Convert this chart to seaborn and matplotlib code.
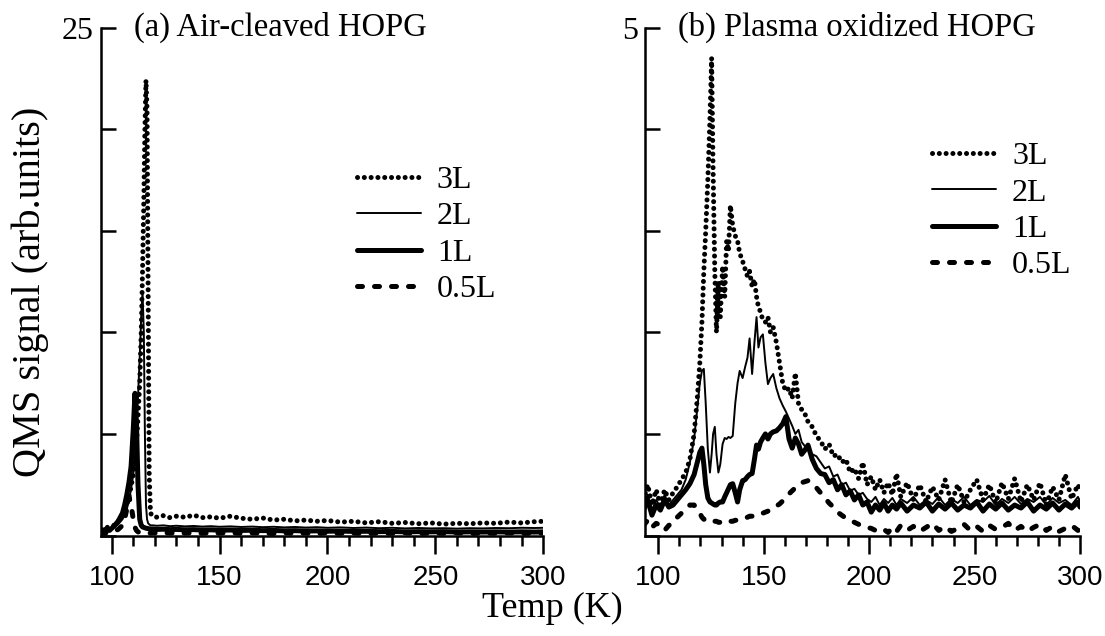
import matplotlib
matplotlib.use('Agg')
import matplotlib.pyplot as plt
from matplotlib.ticker import MultipleLocator
import pandas as pd
import seaborn as sns

# (a) air-cleaved HOPG, shared temperature grid (K)
temp_a = [95, 97, 99, 101, 103, 105, 106, 107, 108, 109,
          110, 110.8, 111.5, 112.2, 113, 113.7, 114.3, 114.9, 115.4, 115.9,
          116.4, 116.9, 117.4, 118, 119, 121, 124, 127, 130, 134,
          138, 142, 146, 150, 155, 160, 165, 170, 175, 180,
          185, 190, 195, 200, 206, 212, 218, 224, 230, 236,
          242, 248, 254, 260, 266, 272, 278, 284, 290, 296,
          300]
a_3L = [0.30, 0.35, 0.45, 0.50, 0.70, 1.00, 1.20, 1.50, 1.90, 2.40,
        3.00, 3.60, 4.50, 5.80, 7.50, 10.0, 13.0, 16.5, 20.0, 22.4,
        21.0, 12.0, 3.00, 1.10, 0.95, 0.90, 0.98, 0.88, 0.95, 0.90,
        1.00, 0.88, 0.92, 0.85, 0.95, 0.85, 0.80, 0.86, 0.76, 0.80,
        0.72, 0.76, 0.70, 0.74, 0.66, 0.70, 0.62, 0.68, 0.60, 0.64,
        0.58, 0.62, 0.56, 0.60, 0.58, 0.62, 0.60, 0.66, 0.62, 0.68,
        0.70]
a_2L = [0.25, 0.30, 0.35, 0.40, 0.55, 0.80, 1.00, 1.30, 1.70, 2.30,
        3.00, 4.00, 5.20, 6.80, 8.80, 10.8, 12.0, 10.0, 5.00, 1.50,
        0.80, 0.60, 0.55, 0.50, 0.50, 0.48, 0.50, 0.46, 0.48, 0.45,
        0.47, 0.44, 0.46, 0.43, 0.45, 0.42, 0.44, 0.41, 0.43, 0.40,
        0.42, 0.39, 0.41, 0.38, 0.40, 0.37, 0.39, 0.36, 0.38, 0.35,
        0.37, 0.35, 0.36, 0.34, 0.36, 0.35, 0.37, 0.36, 0.38, 0.37,
        0.38]
a_1L = [0.20, 0.30, 0.25, 0.45, 0.70, 1.10, 1.50, 2.00, 2.60, 3.40,
        5.20, 7.00, 5.50, 2.50, 0.80, 0.50, 0.42, 0.40, 0.38, 0.36,
        0.35, 0.34, 0.33, 0.32, 0.32, 0.30, 0.31, 0.29, 0.30, 0.28,
        0.29, 0.27, 0.28, 0.26, 0.27, 0.25, 0.26, 0.24, 0.25, 0.23,
        0.24, 0.22, 0.23, 0.21, 0.22, 0.20, 0.21, 0.19, 0.20, 0.18,
        0.19, 0.18, 0.19, 0.17, 0.18, 0.17, 0.18, 0.17, 0.18, 0.17,
        0.18]
a_05L = [0.10, 0.12, 0.15, 0.20, 0.30, 0.50, 0.80, 1.30, 1.90, 1.50,
         0.80, 0.40, 0.25, 0.18, 0.15, 0.14, 0.13, 0.14, 0.13, 0.12,
         0.13, 0.12, 0.12, 0.12, 0.13, 0.12, 0.14, 0.12, 0.13, 0.12,
         0.13, 0.11, 0.13, 0.12, 0.14, 0.11, 0.13, 0.12, 0.10, 0.13,
         0.11, 0.12, 0.10, 0.13, 0.11, 0.12, 0.10, 0.12, 0.11, 0.13,
         0.10, 0.12, 0.11, 0.13, 0.10, 0.12, 0.11, 0.13, 0.10, 0.12,
         0.12]

# (b) plasma oxidized HOPG
temp_b = [93, 95, 97, 99, 101, 103, 105, 107, 109, 111,
          113, 115, 117, 118.5, 119.7, 120.7, 121.6, 122.5, 123.5, 124.5,
          125.3, 126, 126.8, 127.6, 128.5, 129.4, 130.5, 131.5, 132.4, 133.3,
          134.2, 135.3, 136.5, 137.6, 138.6, 140, 141.2, 142.3, 143.3, 144.5,
          145.6, 146.6, 147.5, 148.5, 149.6, 150.8, 152, 153.2, 154.5, 156,
          157.5, 159, 160.5, 162, 163.5, 165, 166.5, 168, 169.5, 171,
          173, 175, 177, 179, 181, 183, 185, 187, 189, 191,
          193, 195, 197, 199, 201, 203, 205, 207, 209, 211,
          213, 215, 218, 221, 224, 227, 230, 233, 236, 239,
          242, 245, 248, 251, 254, 257, 260, 263, 266, 269,
          272, 275, 278, 281, 284, 287, 290, 293, 296, 299,
          300]
b_3L = [0.35, 0.50, 0.30, 0.45, 0.30, 0.45, 0.35, 0.42, 0.48, 0.55,
        0.62, 0.75, 1.00, 1.35, 1.70, 2.10, 2.60, 3.00, 3.50, 4.10,
        4.70, 3.60, 2.60, 2.00, 2.50, 2.15, 2.65, 2.35, 2.90, 2.80,
        3.25, 3.05, 2.95, 2.90, 2.78, 2.70, 2.62, 2.55, 2.60, 2.45,
        2.52, 2.35, 2.25, 2.20, 2.12, 2.10, 2.15, 2.00, 2.05, 1.90,
        1.70, 1.50, 1.42, 1.45, 1.35, 1.60, 1.30, 1.24, 1.20, 1.12,
        1.07, 0.98, 0.93, 0.85, 0.90, 0.78, 0.80, 0.72, 0.75, 0.62,
        0.66, 0.56, 0.72, 0.50, 0.58, 0.45, 0.55, 0.42, 0.52, 0.40,
        0.61, 0.38, 0.52, 0.35, 0.50, 0.33, 0.48, 0.35, 0.55, 0.32,
        0.50, 0.33, 0.45, 0.55, 0.35, 0.50, 0.32, 0.52, 0.36, 0.56,
        0.33, 0.50, 0.35, 0.52, 0.30, 0.48, 0.35, 0.60, 0.36, 0.50,
        0.45]
b_2L = [0.30, 0.40, 0.25, 0.35, 0.28, 0.40, 0.30, 0.35, 0.40, 0.45,
        0.55, 0.72, 0.95, 1.25, 1.50, 1.62, 1.64, 1.30, 0.85, 0.62,
        0.80, 1.00, 1.07, 0.80, 0.62, 0.70, 0.90, 0.96, 0.95, 0.97,
        0.96, 0.98, 1.30, 1.50, 1.62, 1.55, 1.66, 1.75, 1.94, 1.59,
        1.90, 2.15, 1.85, 1.95, 1.98, 1.70, 1.49, 1.55, 1.59, 1.45,
        1.35, 1.28, 1.22, 1.15, 1.08, 1.00, 1.04, 0.92, 0.88, 0.86,
        0.80, 0.78, 0.72, 0.66, 0.68, 0.58, 0.60, 0.50, 0.52, 0.44,
        0.46, 0.40, 0.42, 0.36, 0.33, 0.38, 0.30, 0.36, 0.32, 0.37,
        0.30, 0.36, 0.32, 0.38, 0.30, 0.35, 0.31, 0.38, 0.30, 0.36,
        0.32, 0.38, 0.30, 0.35, 0.33, 0.39, 0.30, 0.36, 0.32, 0.38,
        0.31, 0.36, 0.33, 0.38, 0.30, 0.37, 0.32, 0.35, 0.30, 0.38,
        0.34]
b_1L = [0.25, 0.35, 0.20, 0.30, 0.25, 0.35, 0.28, 0.30, 0.35, 0.40,
        0.45, 0.51, 0.60, 0.72, 0.82, 0.86, 0.70, 0.50, 0.37, 0.33,
        0.32, 0.31, 0.30, 0.30, 0.32, 0.33, 0.33, 0.38, 0.42, 0.46,
        0.50, 0.51, 0.42, 0.33, 0.45, 0.54, 0.55, 0.58, 0.60, 0.61,
        0.75, 0.89, 0.85, 0.92, 0.96, 1.00, 0.95, 1.00, 1.02, 1.03,
        1.06, 1.10, 1.17, 0.95, 0.86, 0.96, 0.90, 0.80, 0.84, 0.89,
        0.75, 0.66, 0.61, 0.60, 0.52, 0.55, 0.45, 0.50, 0.40, 0.44,
        0.35, 0.40, 0.30, 0.33, 0.23, 0.30, 0.25, 0.32, 0.24, 0.30,
        0.26, 0.32, 0.24, 0.30, 0.27, 0.33, 0.24, 0.31, 0.26, 0.32,
        0.25, 0.30, 0.27, 0.33, 0.24, 0.31, 0.26, 0.32, 0.25, 0.30,
        0.27, 0.33, 0.24, 0.30, 0.26, 0.32, 0.25, 0.31, 0.27, 0.33,
        0.28]
b_05L = [0.10, 0.15, 0.08, 0.12, 0.10, 0.05, 0.10, 0.12, 0.18, 0.22,
         0.26, 0.30, 0.30, 0.26, 0.22, 0.18, 0.16, 0.16, 0.17, 0.16,
         0.15, 0.15, 0.14, 0.14, 0.13, 0.13, 0.12, 0.13, 0.14, 0.14,
         0.14, 0.14, 0.15, 0.15, 0.16, 0.17, 0.17, 0.18, 0.19, 0.19,
         0.20, 0.20, 0.21, 0.21, 0.22, 0.23, 0.24, 0.25, 0.27, 0.29,
         0.31, 0.34, 0.38, 0.41, 0.44, 0.47, 0.50, 0.52, 0.53, 0.54,
         0.51, 0.47, 0.42, 0.37, 0.32, 0.28, 0.23, 0.20, 0.17, 0.15,
         0.13, 0.11, 0.09, 0.08, 0.07, 0.05, 0.04, 0.06, 0.03, 0.08,
         0.04, 0.10, 0.05, 0.09, 0.04, 0.08, 0.12, 0.05, 0.09, 0.04,
         0.07, 0.11, 0.05, 0.09, 0.04, 0.10, 0.06, 0.08, 0.12, 0.05,
         0.09, 0.04, 0.08, 0.11, 0.05, 0.09, 0.04, 0.07, 0.10, 0.05,
         0.06]

labels = ['3L', '2L', '1L', '0.5L']
styles = {
    '3L': dict(linestyle=(0, (0.01, 1.35)), linewidth=3.6, dash_capstyle='round'),
    '2L': dict(linestyle='-', linewidth=1.4),
    '1L': dict(linestyle='-', linewidth=3.6),
    '0.5L': dict(linestyle=(0, (1.0, 2.4)), linewidth=3.6, dash_capstyle='round'),
}

df_a = pd.DataFrame({'T': temp_a, '3L': a_3L, '2L': a_2L, '1L': a_1L, '0.5L': a_05L})
df_b = pd.DataFrame({'T': temp_b, '3L': b_3L, '2L': b_2L, '1L': b_1L, '0.5L': b_05L})

sns.set_theme(style='ticks')
plt.rcParams['font.family'] = ['Liberation Serif', 'DejaVu Serif']
plt.rcParams['axes.linewidth'] = 1.8
for key in ['text.color', 'axes.labelcolor', 'axes.edgecolor', 'xtick.color', 'ytick.color']:
    plt.rcParams[key] = 'black'
sans_narrow = ['Liberation Sans Narrow', 'Liberation Sans', 'DejaVu Sans']

fig = plt.figure(figsize=(11.05, 6.36), dpi=100)
ax_a = fig.add_axes([0.0911, 0.158, 0.4005, 0.7987])
ax_b = fig.add_axes([0.5837, 0.158, 0.3937, 0.7987])

panels = [
    (ax_a, df_a, 94.9, 25, 5, '25', '(a) Air-cleaved HOPG', (0.579, 0.728)),
    (ax_b, df_b, 93.7, 5, 1, '5', '(b) Plasma oxidized HOPG', (0.66, 0.775)),
]

for ax, df, xmin, ymax, ystep, toplab, title, leg_pos in panels:
    for lab in labels:
        sns.lineplot(data=df, x='T', y=lab, ax=ax, color='black', label=lab, **styles[lab])
    ax.set_xlim(xmin, 300)
    ax.set_ylim(0, ymax)
    ax.set_xlabel('')
    ax.set_ylabel('')
    ax.spines[['top', 'right']].set_visible(False)
    ax.spines[['left', 'bottom']].set_linewidth(1.8)

    yt = list(range(0, ymax + 1, ystep))
    ax.set_yticks(yt)
    ax.set_yticklabels([''] * (len(yt) - 1) + [toplab])
    ax.tick_params(axis='y', direction='in', length=11, width=1.8, labelsize=23, pad=5)

    ax.set_xticks([100, 150, 200, 250, 300])
    ax.xaxis.set_minor_locator(MultipleLocator(10))
    ax.tick_params(axis='x', which='major', direction='out', length=13, width=1.8,
                   labelsize=20, pad=8)
    ax.tick_params(axis='x', which='minor', direction='out', length=7, width=1.8)
    for t in ax.get_xticklabels():
        t.set_fontfamily(sans_narrow)

    ax.text(0.076, 1.0, title, transform=ax.transAxes, fontsize=23.5,
            ha='left', va='center')

    handles, labs = ax.get_legend_handles_labels()
    ax.legend(handles, labs, loc='upper left', bbox_to_anchor=leg_pos, frameon=False,
              fontsize=23, handlelength=2.0, handletextpad=0.5, labelspacing=0.22,
              borderpad=0, borderaxespad=0)

fig.text(0.027, 0.541, 'QMS signal (arb.units)', rotation=90, fontsize=29,
         ha='center', va='center')
fig.text(0.5, 0.044, 'Temp (K)', fontsize=26, ha='center', va='center')

fig.savefig('out.png', dpi=100)
